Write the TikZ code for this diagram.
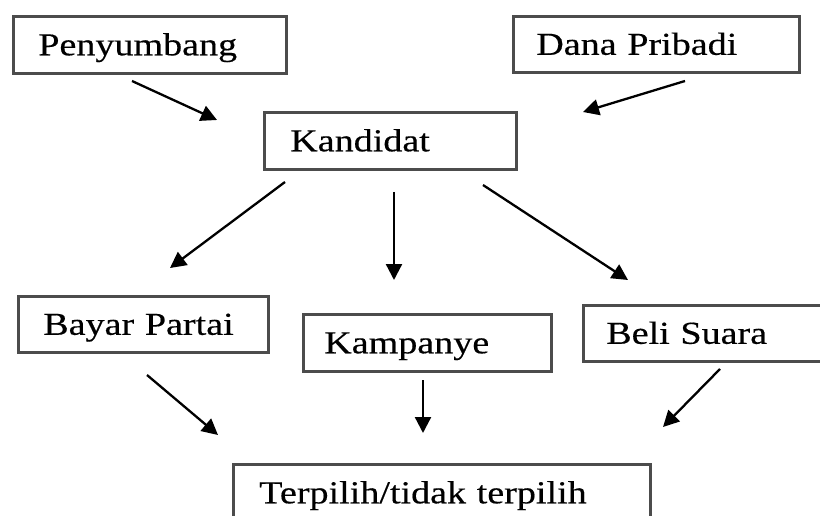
\documentclass[tikz,border=0pt]{standalone}
\usepackage{fontspec}
\setmainfont{Liberation Serif}[FakeStretch=1.19,FakeBold=0.4]
\usetikzlibrary{arrows.meta}
\begin{document}
\begin{tikzpicture}[x=1pt,y=-1pt,
  box/.style={draw=black!70, line width=2.6pt, anchor=north west, inner ysep=0pt,
    text height=21pt, text depth=0pt, align=left, font=\fontsize{32}{38}\selectfont},
  arr/.style={-{Triangle[length=16pt,width=16pt]}, line width=2.3pt, black}]
\useasboundingbox (0,0) rectangle (820,516);
\clip (0,0) rectangle (820,516);
\fill[white] (0,0) rectangle (820,516);

\node[box, inner xsep=25pt, text width=223pt, minimum height=57pt] (peny) at (12,15) {Penyumbang};
\node[box, inner xsep=23pt, text width=240pt, minimum height=56pt] (dana) at (512,15) {Dana Pribadi};
\node[box, inner xsep=26pt, text width=200pt, minimum height=57pt] (kand) at (263,111) {Kandidat};
\node[box, inner xsep=25pt, text width=200pt, minimum height=56pt] (bayar) at (17,295) {Bayar Partai};
\node[box, inner xsep=21pt, text width=206pt, minimum height=57pt] (kamp) at (302,313) {Kampanye};
\node[box, inner xsep=23pt, text width=204pt, minimum height=56pt] (beli) at (582,304) {Beli Suara};
\node[box, inner xsep=26pt, text width=365pt, minimum height=57pt] (terp) at (232,463) {Terpilih/tidak terpilih};

\coordinate (p1) at (132,81);  \coordinate (p2) at (217,120);
\coordinate (d1) at (685,81);  \coordinate (d2) at (583,112);
\coordinate (k1) at (285,182); \coordinate (k2) at (170,268);
\coordinate (k3) at (394,192); \coordinate (k4) at (394,280);
\coordinate (k5) at (483,185); \coordinate (k6) at (628,280);
\coordinate (b1) at (147,375); \coordinate (b2) at (218,435);
\coordinate (m1) at (423,380); \coordinate (m2) at (423,433);
\coordinate (s1) at (720,369); \coordinate (s2) at (663,427);

\draw[arr] (p1) -- (p2);
\draw[arr] (d1) -- (d2);
\draw[arr] (k1) -- (k2);
\draw[arr] (k3) -- (k4);
\draw[arr] (k5) -- (k6);
\draw[arr] (b1) -- (b2);
\draw[arr] (m1) -- (m2);
\draw[arr] (s1) -- (s2);
\end{tikzpicture}
\end{document}
